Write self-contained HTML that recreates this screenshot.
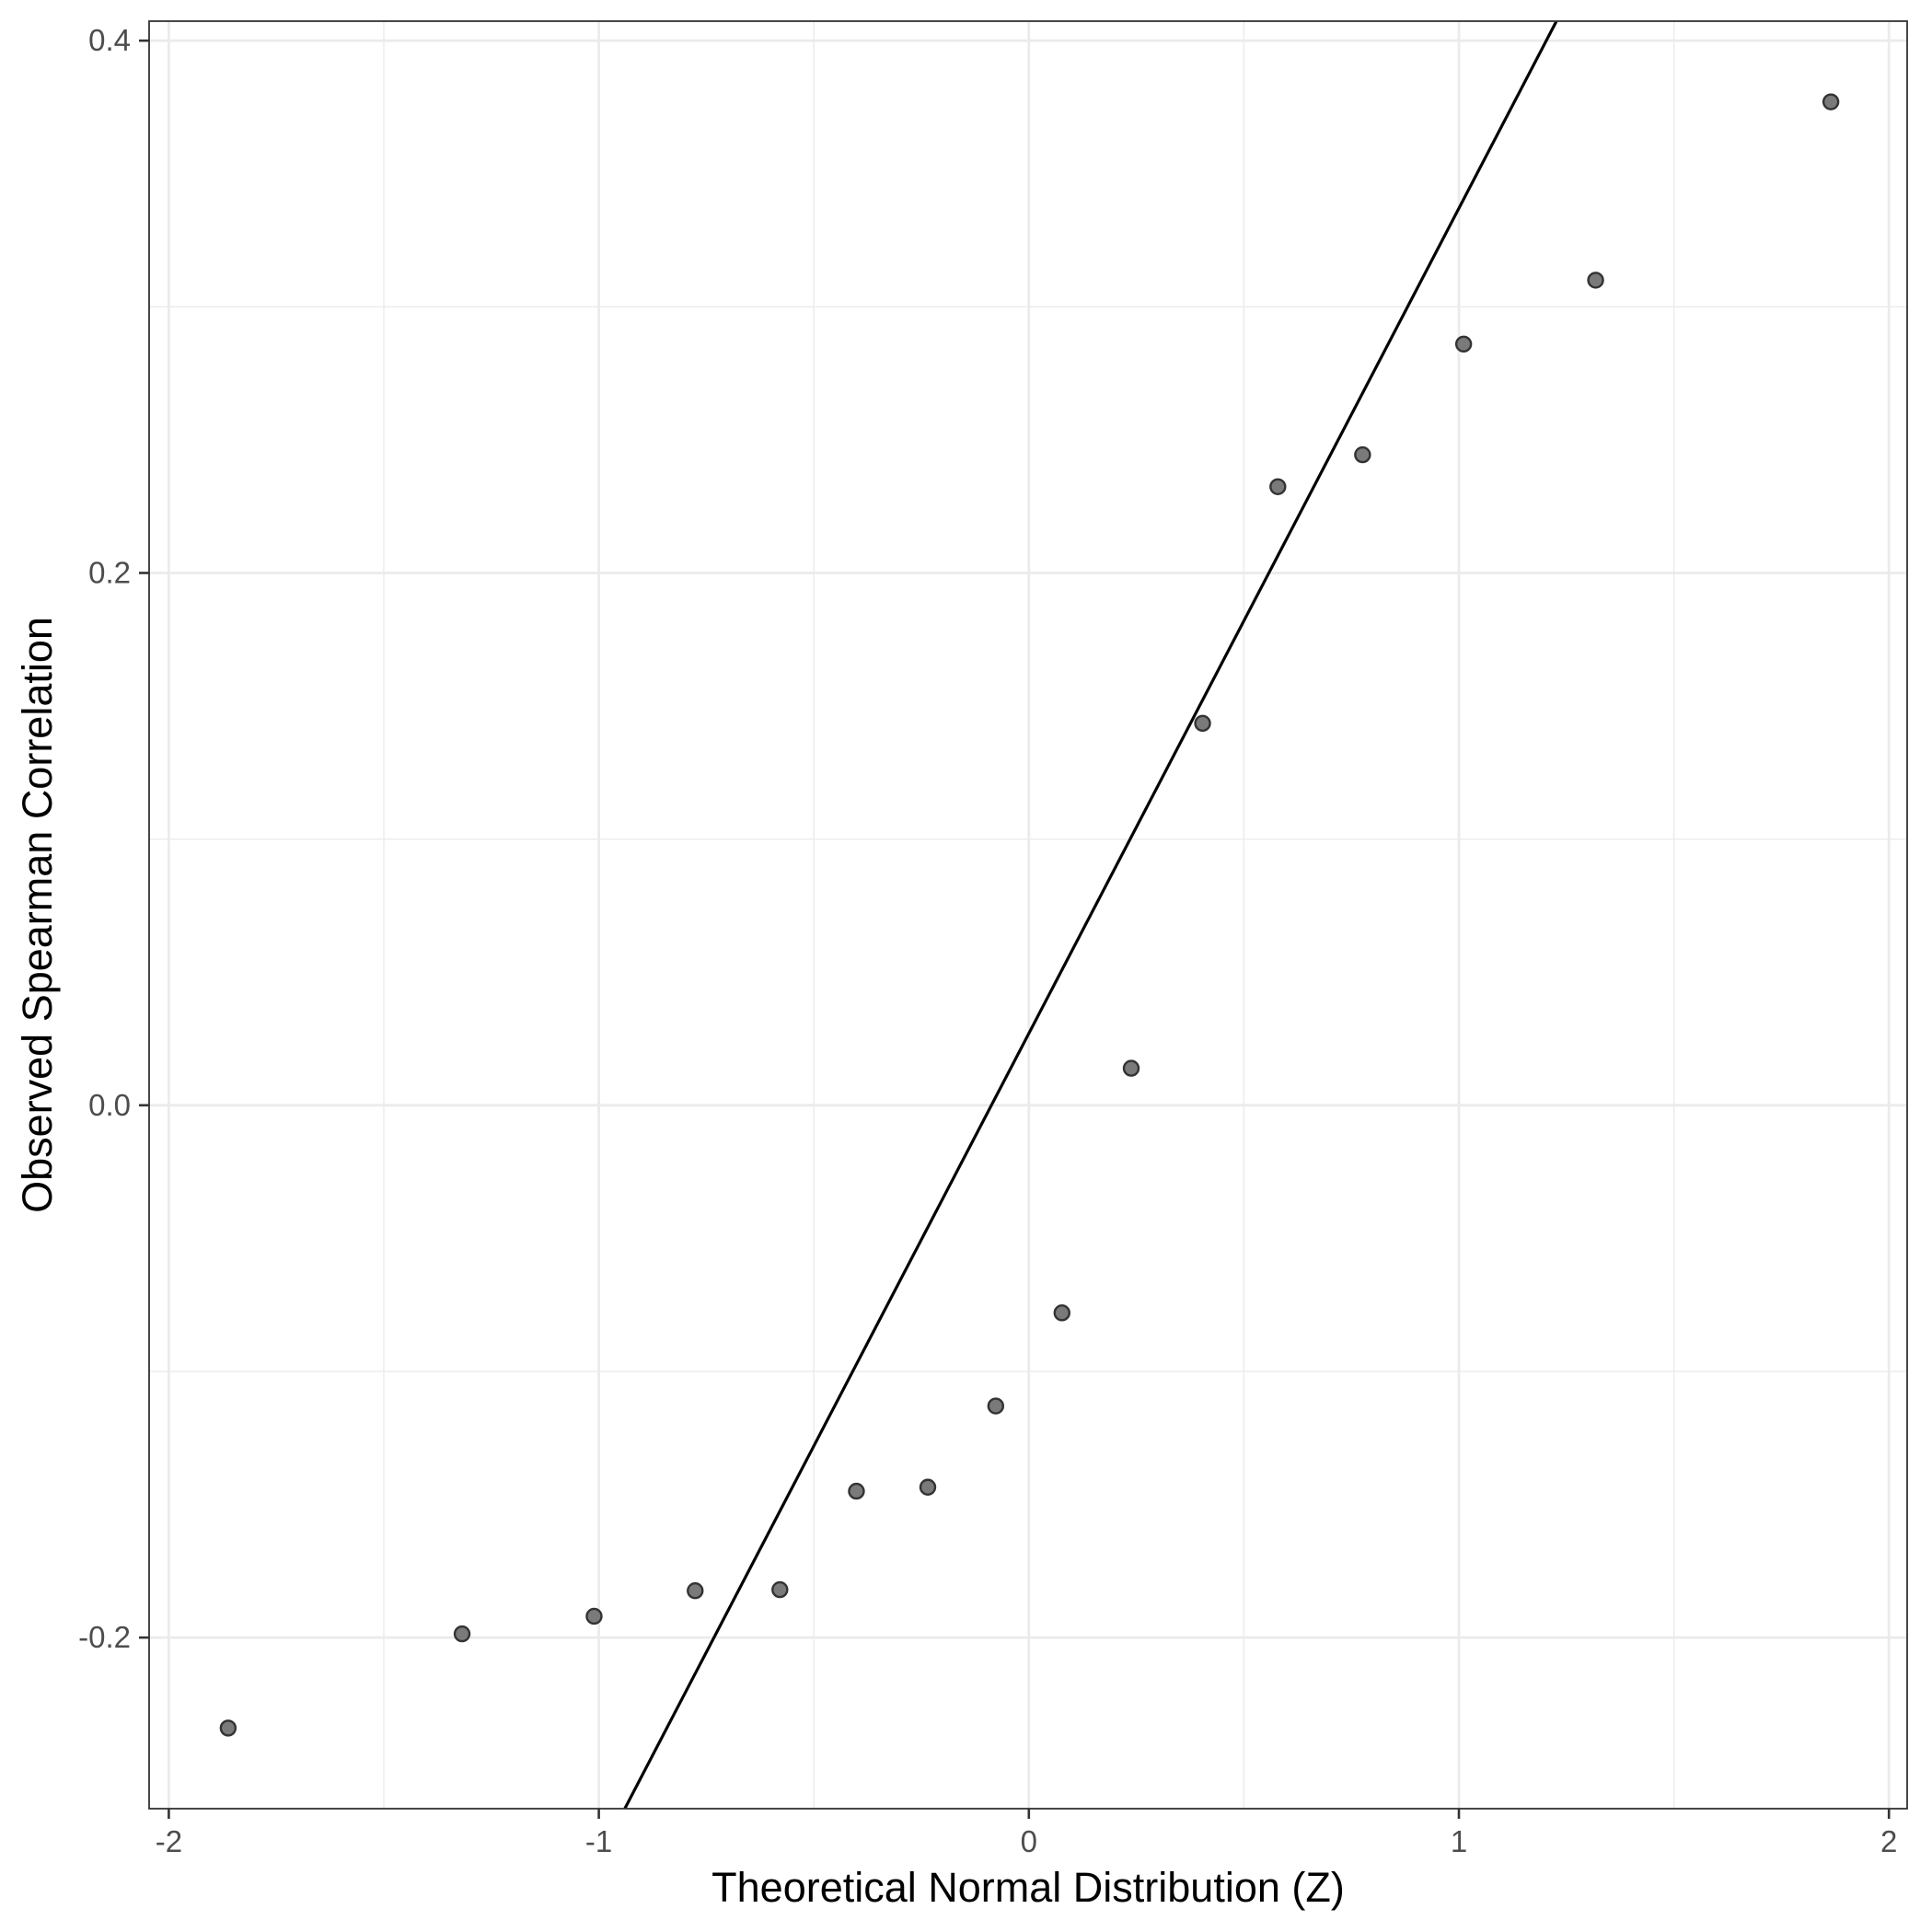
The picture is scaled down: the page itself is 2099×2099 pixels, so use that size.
<!DOCTYPE html>
<html><head><meta charset="utf-8"><style>
html,body{margin:0;padding:0;background:#fff;overflow:hidden;width:2099px;height:2099px;}
svg{display:block;font-family:"Liberation Sans",sans-serif;}
</style></head><body>
<svg id="chart" width="2099" height="2099" viewBox="0 0 2099 2099" xmlns="http://www.w3.org/2000/svg">
<rect width="2099" height="2099" fill="#fff"/>
<g id="grid"></g><g id="marks"></g><g id="axes"></g>
</svg>
<script>
const xValues=[-1.862,-1.318,-1.011,-0.776,-0.579,-0.401,-0.235,-0.077,0.077,0.238,0.404,0.579,0.776,1.011,1.318,1.865];
const yValues=[-0.234,-0.1986,-0.192,-0.1824,-0.182,-0.145,-0.1435,-0.113,-0.078,0.0139,0.1435,0.2324,0.2444,0.286,0.310,0.377];
const xTicks=[-2,-1,0,1,2];
const yTicks=[-0.2,0.0,0.2,0.4];
const yTickLabels=["-0.2","0.0","0.2","0.4"];
const lineSlope=0.310, lineIntercept=0.027;

const L=162,R=2072,T=23,B=1965;
const X=v=>1117.8+v*467.2;
const Y=v=>1200.8-v*2891.6;
const NS="http://www.w3.org/2000/svg";
function mk(tag,attrs,parent){const e=document.createElementNS(NS,tag);for(const k in attrs)e.setAttribute(k,attrs[k]);parent.appendChild(e);return e;}
const grid=document.getElementById('grid'),marks=document.getElementById('marks'),axes=document.getElementById('axes');
mk('rect',{x:L,y:T,width:R-L,height:B-T,fill:'#fff'},grid);
const xMin=(L-1117.8)/467.2,xMax=(R-1117.8)/467.2;
for(let i=0;i<xTicks.length-1;i++){const m=(xTicks[i]+xTicks[i+1])/2;
 const g=mk('line',{x1:X(m),x2:X(m),y1:T,y2:B,stroke:'#ebebeb','stroke-width':1.4},grid);
 }
for(let i=0;i<yTicks.length-1;i++){const m=(yTicks[i]+yTicks[i+1])/2;
 const g=mk('line',{x1:L,x2:R,y1:Y(m),y2:Y(m),stroke:'#ebebeb','stroke-width':1.4},grid);
 }
xTicks.forEach(t=>{const g=mk('line',{x1:X(t),x2:X(t),y1:T,y2:B,stroke:'#ebebeb','stroke-width':2.8},grid);
 });
yTicks.forEach(t=>{const g=mk('line',{x1:L,x2:R,y1:Y(t),y2:Y(t),stroke:'#ebebeb','stroke-width':2.8},grid);
 });
mk('clipPath',{id:'pc'},marks);
mk('rect',{x:L,y:T,width:R-L,height:B-T},document.getElementById('pc'));
const ln=mk('line',{x1:X(xMin),y1:Y(lineIntercept+lineSlope*xMin),x2:X(xMax),y2:Y(lineIntercept+lineSlope*xMax),stroke:'#000','stroke-width':3.2,'clip-path':'url(#pc)'},marks);


xValues.forEach((v,i)=>{const c=mk('circle',{cx:X(v),cy:Y(yValues[i]),r:8,fill:'#7a7a7a',stroke:'#333','stroke-width':2.4},marks);
 
 });
const fr=mk('rect',{x:L,y:T,width:R-L,height:B-T,fill:'none',stroke:'#333','stroke-width':1.8},axes);

xTicks.forEach(t=>{mk('line',{x1:X(t),x2:X(t),y1:B,y2:B+11,stroke:'#333','stroke-width':2.6},axes);
 const tx=mk('text',{x:X(t),y:B+47,'text-anchor':'middle','font-size':33,fill:'#4d4d4d'},axes);tx.textContent=String(t);
 });
yTicks.forEach((t,i)=>{mk('line',{x1:L-11,x2:L,y1:Y(t),y2:Y(t),stroke:'#333','stroke-width':2.6},axes);
 const tx=mk('text',{x:L-20,y:Y(t)+11,'text-anchor':'end','font-size':33,fill:'#4d4d4d'},axes);tx.textContent=yTickLabels[i];
 });
const xt=mk('text',{x:(L+R)/2,y:2066,'text-anchor':'middle','font-size':45,fill:'#000'},axes);xt.textContent='Theoretical Normal Distribution (Z)';

const yt=mk('text',{x:0,y:0,'text-anchor':'middle','font-size':45,fill:'#000',transform:`translate(56,${(T+B)/2}) rotate(-90)`},axes);yt.textContent='Observed Spearman Correlation';

</script>
</body></html>
